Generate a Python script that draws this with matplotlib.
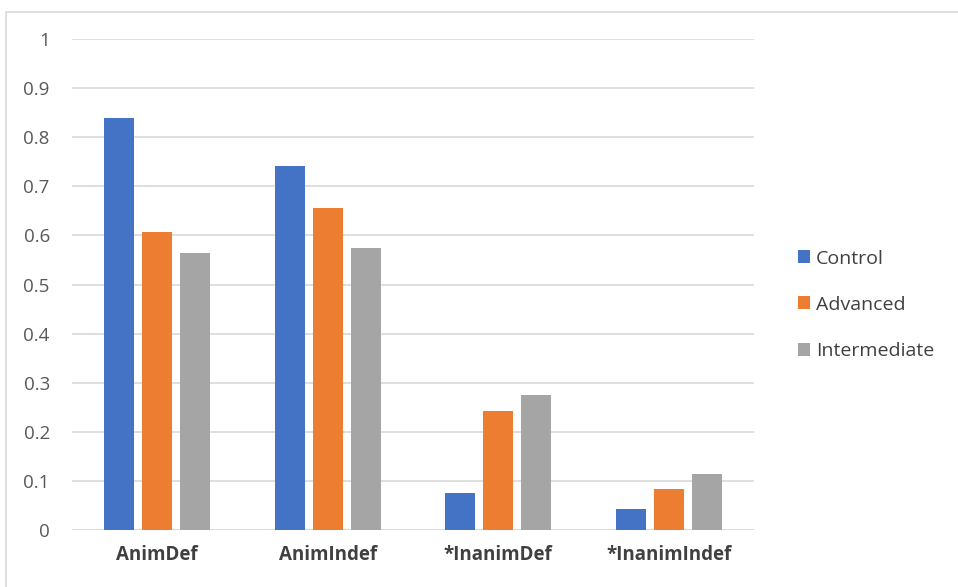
import matplotlib
matplotlib.use("Agg")
import matplotlib.pyplot as plt
import numpy as np
from matplotlib.patches import Rectangle, Patch

categories = ["AnimDef", "AnimIndef", "*InanimDef", "*InanimIndef"]
series_names = ["Control", "Advanced", "Intermediate"]
control = [0.839, 0.741, 0.075, 0.042]
advanced = [0.606, 0.655, 0.242, 0.083]
intermediate = [0.565, 0.574, 0.274, 0.115]
yticks = [0, 0.1, 0.2, 0.3, 0.4, 0.5, 0.6, 0.7, 0.8, 0.9, 1]
ytick_labels = ["0", "0.1", "0.2", "0.3", "0.4", "0.5", "0.6", "0.7", "0.8", "0.9", "1"]

colors = ["#4472C4", "#ED7D31", "#A5A5A5"]
plt.rcParams["font.family"] = ["Open Sans", "DejaVu Sans"]

W, H = 958, 587
fig = plt.figure(figsize=(W / 100, H / 100), dpi=100)
fig.patch.set_facecolor("white")

# outer chart frame
fig.patches.append(Rectangle((6 / W, -0.05), 1.1, 1 - 12 / H + 0.05,
                             transform=fig.transFigure, fill=False,
                             edgecolor="#D9D9D9", linewidth=1.2))

left, right = 72 / W, 754 / W
bottom, top = 1 - 530 / H, 1 - 39 / H
ax = fig.add_axes([left, bottom, right - left, top - bottom])

x = np.arange(len(categories))
bw = 0.176
step = 0.223
for i, (vals, c) in enumerate(zip([control, advanced, intermediate], colors)):
    ax.bar(x + (i - 1) * step, vals, width=bw, color=c, zorder=3)

ax.set_xlim(-0.5, len(categories) - 0.5)
ax.set_ylim(0, 1)
ax.set_yticks(yticks)
ax.set_yticklabels(ytick_labels)
ax.set_xticks(x)
ax.set_xticklabels(categories, fontweight="bold", color="#404040", fontsize=13.5)
ax.tick_params(axis="y", length=0, pad=16, labelsize=13.5, labelcolor="#595959")
ax.tick_params(axis="x", length=0, pad=11)
ax.grid(axis="y", color="#D9D9D9", linewidth=1.2, zorder=0)
for s in ax.spines.values():
    s.set_visible(False)
ax.axhline(0, color="#D9D9D9", linewidth=1.2, zorder=2)

handles = [Patch(facecolor=c, edgecolor="none") for c in colors]
fig.legend(handles, series_names, loc="upper left",
           bbox_to_anchor=(780 / W, 1 - 232 / H), frameon=False,
           handlelength=0.65, handleheight=0.65, handletextpad=0.3,
           labelspacing=1.45, prop={"size": 14}, labelcolor="#404040")

fig.savefig("out.png", dpi=100)
